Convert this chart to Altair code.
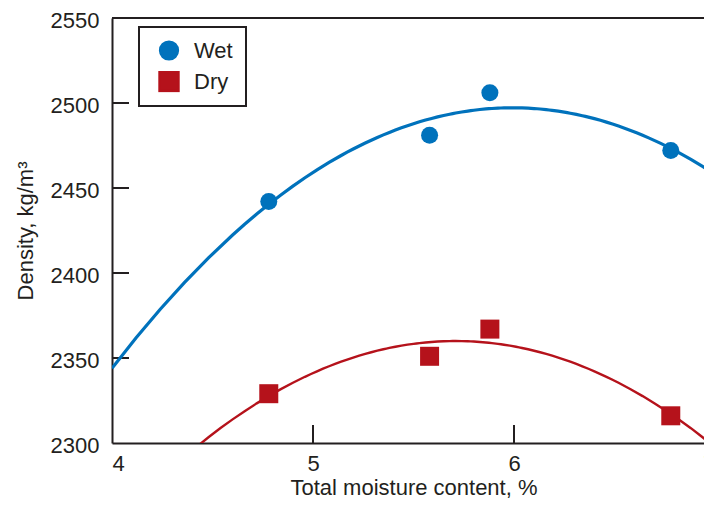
import altair as alt
import pandas as pd

# ---- data ----
series_names = ["Wet", "Dry"]
moisture = [4.78, 5.58, 5.88, 6.78]
wet_density = [2442, 2481, 2506, 2472]
dry_density = [2329, 2351, 2367, 2316]
x_ticks = [4, 5, 6, 7]
y_ticks = [2300, 2350, 2400, 2450, 2500, 2550]
x_inner_ticks = [5, 6]
y_inner_ticks = [2350, 2400, 2450, 2500]
top_edge = [2550]

df = pd.DataFrame({
    "moisture": moisture + moisture,
    "density": wet_density + dry_density,
    "series": ["Wet"] * len(wet_density) + ["Dry"] * len(dry_density),
})

INK = "#231f20"
BLUE = "#0072bc"
RED = "#b5121b"
FONT = "Liberation Sans"

xs = alt.Scale(domain=[4, 7], nice=False, zero=False)
ys = alt.Scale(domain=[2300, 2550], nice=False, zero=False)
cs = alt.Scale(domain=series_names, range=[BLUE, RED])
ss = alt.Scale(domain=series_names, range=["circle", "square"])

X = alt.X("moisture:Q", scale=xs,
          axis=alt.Axis(values=x_ticks, format="d", title="Total moisture content, %",
                        labelPadding=10, titlePadding=3))
Y = alt.Y("density:Q", scale=ys,
          axis=alt.Axis(values=y_ticks, format="d", title="Density, kg/m³",
                        labelPadding=13, titlePadding=13, labelOffset=2))

legend = alt.Legend(title=None, orient="none", legendX=27, legendY=9,
                    strokeColor=INK, fillColor="white", padding=13,
                    symbolOffset=6, labelOffset=14, rowPadding=8, clipHeight=21,
                    symbolSize=300, symbolStrokeWidth=0,
                    labelFont=FONT, labelFontSize=22, labelColor=INK)

lines = alt.Chart(df).transform_regression(
    "moisture", "density", method="poly", order=2, extent=[4, 7], groupby=["series"]
).mark_line(clip=True).encode(
    x=X, y=Y,
    color=alt.Color("series:N", scale=cs, legend=legend),
    strokeWidth=alt.StrokeWidth("series:N",
                                scale=alt.Scale(domain=series_names, range=[3.2, 2.4]),
                                legend=None),
)

points = alt.Chart(df).mark_point(filled=True, opacity=1, strokeWidth=0).encode(
    x=X, y=Y,
    color=alt.Color("series:N", scale=cs, legend=legend),
    shape=alt.Shape("series:N", scale=ss, legend=legend),
    size=alt.Size("series:N", scale=alt.Scale(domain=series_names, range=[290, 361]),
                  legend=None),
)

y_tick_marks = alt.Chart(pd.DataFrame({"density": y_inner_ticks})).mark_rule(
    color=INK, strokeWidth=2
).encode(y=Y, x=alt.value(0), x2=alt.value(17))

x_tick_marks = alt.Chart(pd.DataFrame({"moisture": x_inner_ticks})).mark_rule(
    color=INK, strokeWidth=2
).encode(x=X, y=alt.value(407), y2=alt.value(425))

top_rule = alt.Chart(pd.DataFrame({"density": top_edge})).mark_rule(
    color=INK, strokeWidth=2
).encode(y=Y)

chart = alt.layer(top_rule, y_tick_marks, x_tick_marks, lines, points).properties(
    width=603, height=425,
    autosize=alt.AutoSizeParams(type="none"),
    padding={"left": 104, "top": 10, "right": -11, "bottom": 55},
).configure_view(stroke=None).configure_axis(
    grid=False, tickSize=0, domainColor=INK, domainWidth=2,
    labelFont=FONT, labelFontSize=22, labelColor=INK,
    titleFont=FONT, titleFontSize=22, titleFontWeight="normal", titleColor=INK,
).configure_legend(strokeWidth=2)

chart.save("out.html", embed_options={"renderer": "svg", "actions": False})
